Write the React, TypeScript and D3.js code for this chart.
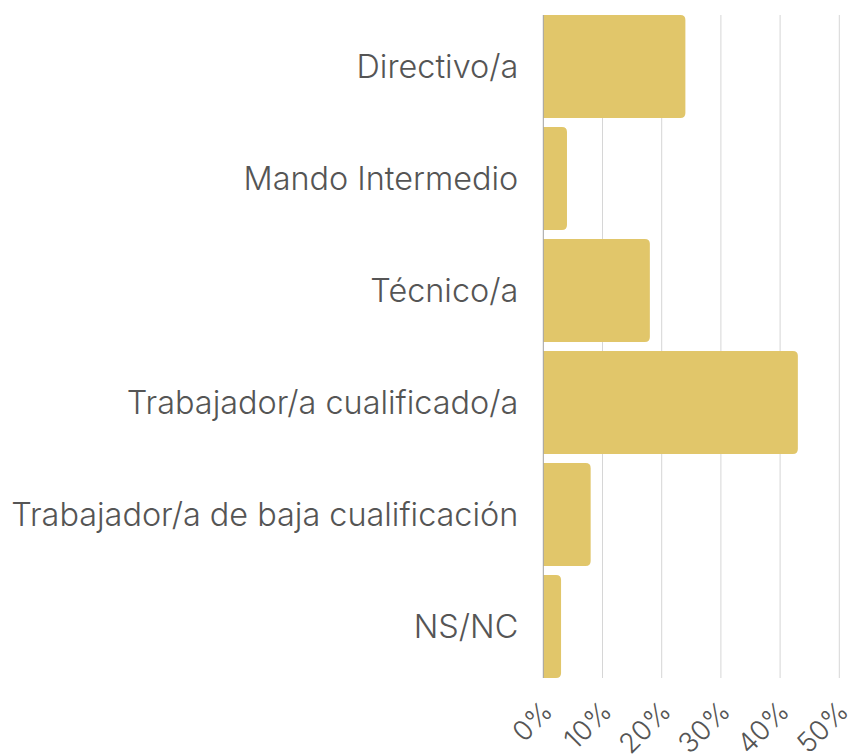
import React from "react";
import * as d3 from "d3";

const categories = [
  "Directivo/a",
  "Mando Intermedio",
  "Técnico/a",
  "Trabajador/a cualificado/a",
  "Trabajador/a de baja cualificación",
  "NS/NC",
];
const values = [24, 4, 18, 43, 8, 3];
const ticks = [0, 10, 20, 30, 40, 50];

const W = 854;
const H = 754;
const left = 543.3;
const right = 839.3;
const top = 15;
const bottom = 678;

const FONT = "Inter, 'Noto Sans', sans-serif";

const App = () => {
  const x = d3.scaleLinear().domain([0, 50]).range([left, right]);
  const y = d3
    .scaleBand()
    .domain(categories)
    .range([top - 4.5, bottom + 4.5])
    .paddingInner(0.08)
    .paddingOuter(0.04);

  const r = 5;
  // bar with rounded right corners only
  const barPath = (v: number, cat: string) => {
    const x0 = x(0);
    const x1 = x(v);
    const y0 = y(cat)!;
    const h = y.bandwidth();
    const rr = Math.min(r, (x1 - x0) / 2);
    return `M${x0},${y0}H${x1 - rr}Q${x1},${y0} ${x1},${y0 + rr}V${y0 + h - rr}Q${x1},${y0 + h} ${x1 - rr},${y0 + h}H${x0}Z`;
  };

  return (
    <svg width={W} height={H} style={{ position: "absolute", left: 0, top: 0 }}>
      <rect width={W} height={H} fill="#fff" />
      {ticks.slice(1).map((t) => (
        <line key={t} x1={x(t)} x2={x(t)} y1={top} y2={bottom} stroke="#d6d6d6" strokeWidth={1} />
      ))}
      {categories.map((c, i) => (
        <path key={c} d={barPath(values[i], c)} fill="#e1c66a" />
      ))}
      <line x1={x(0)} x2={x(0)} y1={top} y2={bottom} stroke="#a0a0a0" strokeWidth={1} />
      {categories.map((c) => (
        <text
          key={c}
          x={left - 25}
          y={y(c)! + y.bandwidth() / 2}
          dy="0.35em"
          textAnchor="end"
          fontFamily={FONT}
          fontSize={32.4}
          fontWeight={300}
          fill="#555"
        >
          {c}
        </text>
      ))}
      {ticks.map((t) => (
        <text
          key={t}
          transform={`translate(${x(t) + 11},${713}) rotate(-45)`}
          textAnchor="end"
          fontFamily={FONT}
          fontSize={27.5}
          fontWeight={300}
          fill="#555"
        >
          {t}%
        </text>
      ))}
    </svg>
  );
};

export default App;
